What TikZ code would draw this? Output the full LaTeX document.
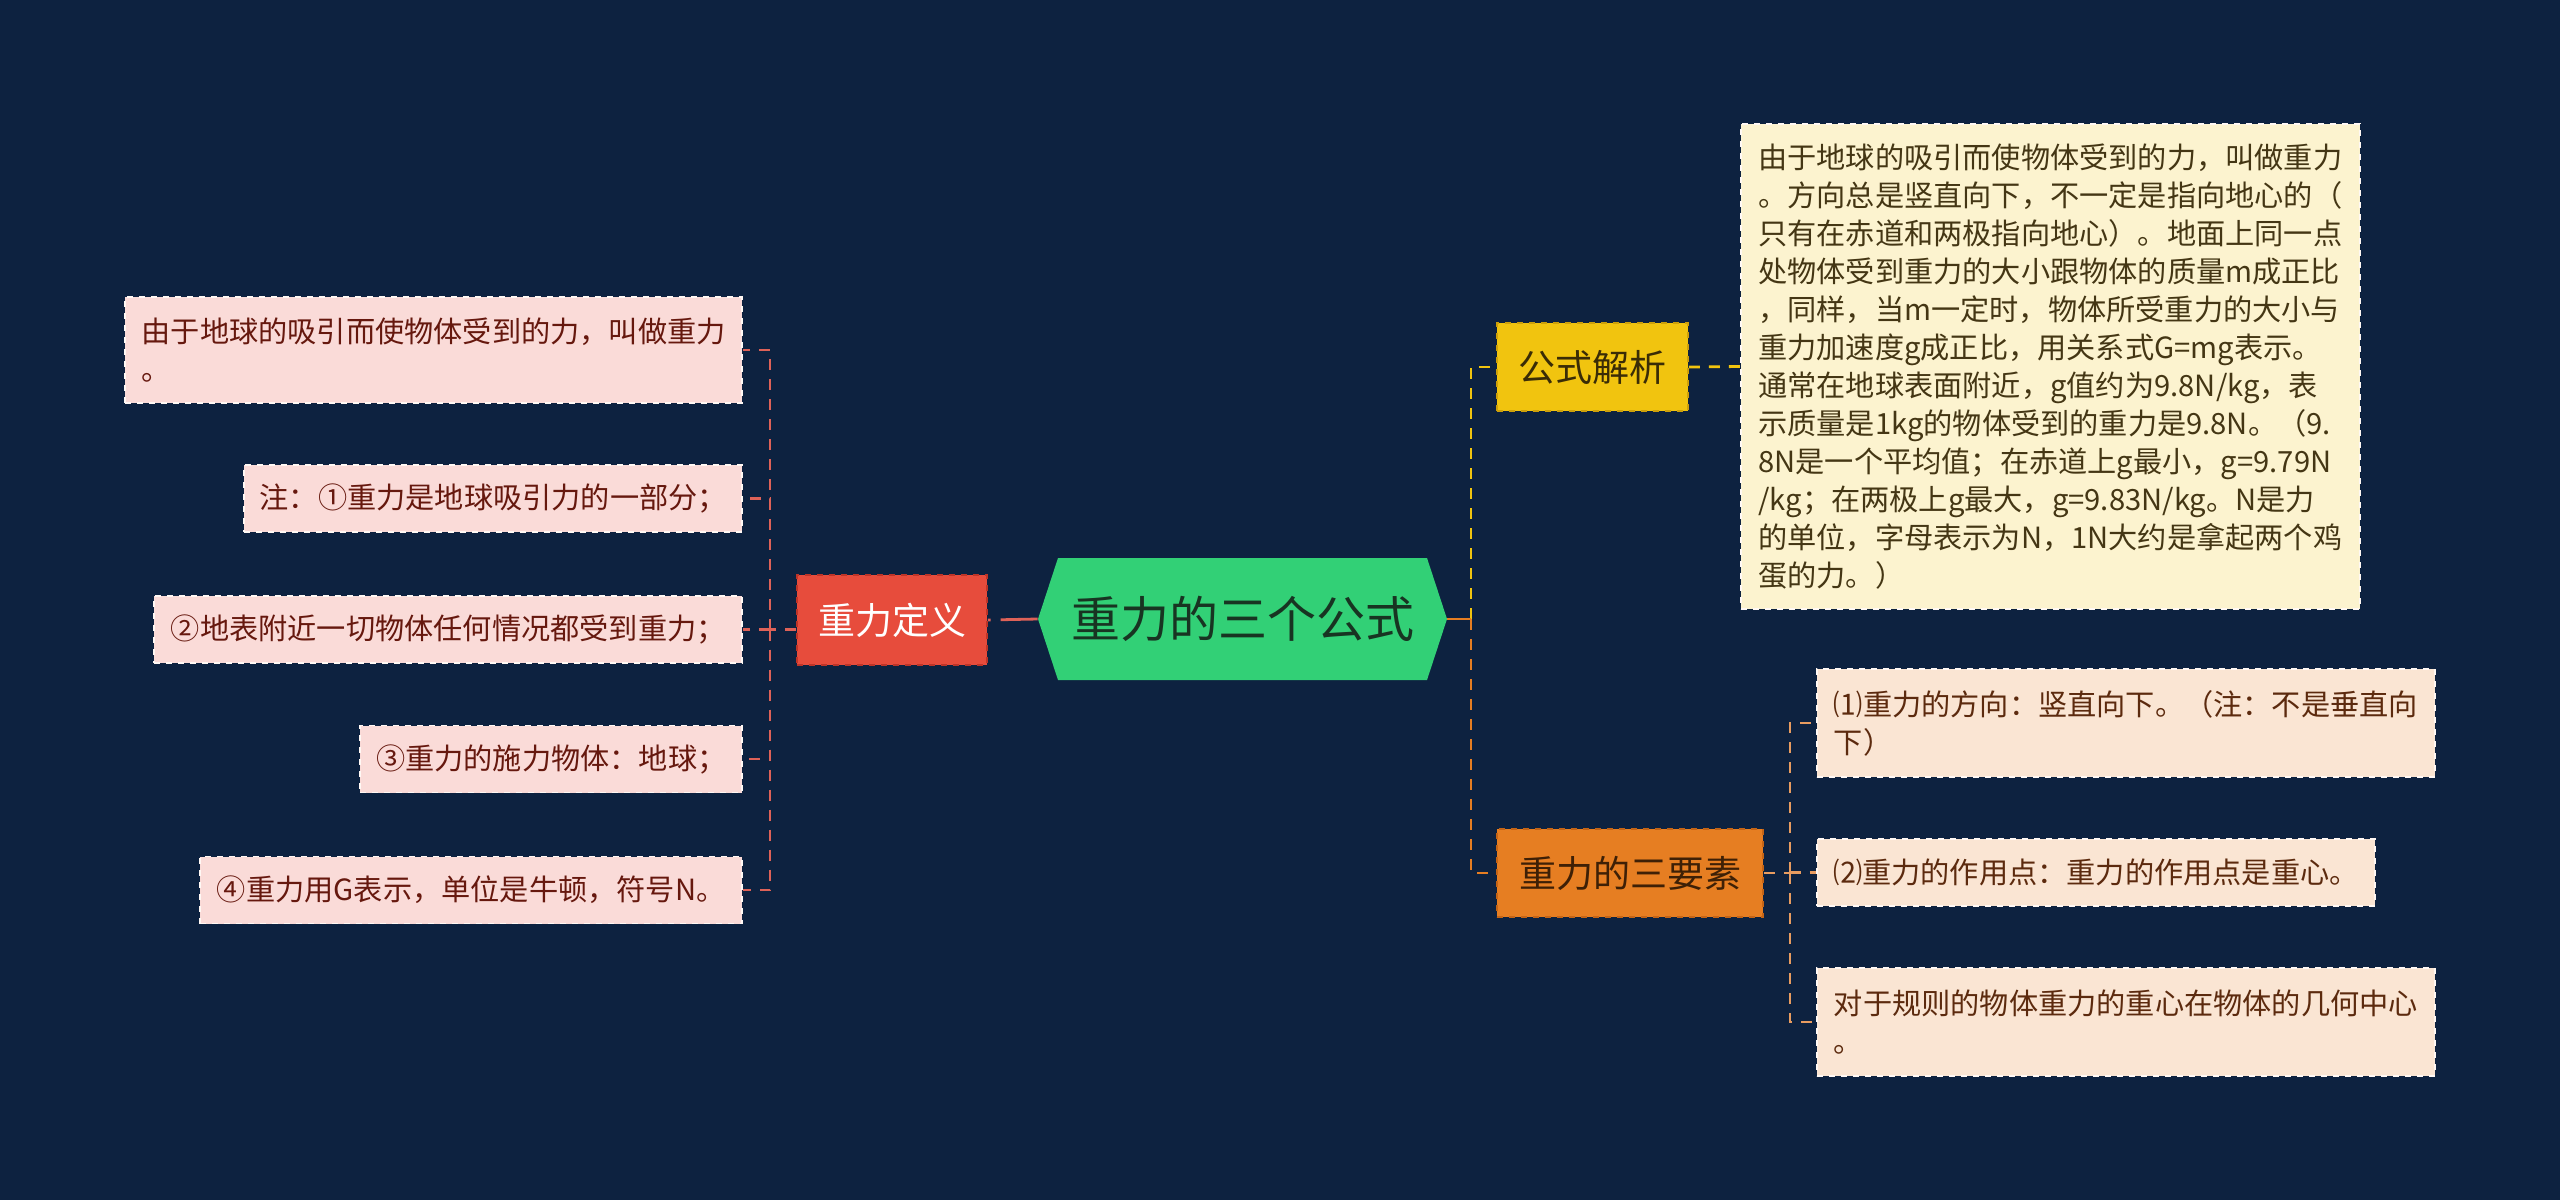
\documentclass[tikz,border=0pt]{standalone}
\usepackage{fontspec}
\setmainfont{Noto Sans CJK SC}
\usepackage{tikz}

\definecolor{bgnavy}{RGB}{13,34,64}
\definecolor{rootgreen}{RGB}{50,208,118}
\definecolor{rootink}{RGB}{24,52,34}
\definecolor{defred}{RGB}{231,76,60}
\definecolor{defedge}{RGB}{190,52,40}
\definecolor{fayellow}{RGB}{241,196,15}
\definecolor{faedge}{RGB}{205,160,10}
\definecolor{faink}{RGB}{58,44,6}
\definecolor{syorange}{RGB}{230,126,34}
\definecolor{syedge}{RGB}{196,100,22}
\definecolor{syink}{RGB}{62,32,6}
\definecolor{pinkleaf}{RGB}{250,219,216}
\definecolor{pinkink}{RGB}{102,24,14}
\definecolor{notefill}{RGB}{252,243,207}
\definecolor{noteink}{RGB}{68,54,20}
\definecolor{peachleaf}{RGB}{250,229,211}
\definecolor{peachink}{RGB}{92,42,14}
\definecolor{leafedge}{RGB}{255,248,244}
\definecolor{lline}{RGB}{222,98,88}
\definecolor{sline}{RGB}{232,156,96}

\tikzset{
  hexa/.style={minimum width=204.5pt,minimum height=61pt,inner sep=0pt,fill=bgnavy,
    text=rootink,font=\fontsize{24.5}{28}\selectfont,
    path picture={\fill[rootgreen] (path picture bounding box.west)
      -- ([xshift=10pt]path picture bounding box.north west)
      -- ([xshift=-10pt]path picture bounding box.north east)
      -- (path picture bounding box.east)
      -- ([xshift=-10pt]path picture bounding box.south east)
      -- ([xshift=10pt]path picture bounding box.south west) -- cycle;}},
  mainbox/.style={minimum height=44pt,inner sep=0pt,dashed,line width=0.8pt,
    font=\fontsize{18.5}{22}\selectfont},
  leafbox/.style={inner xsep=6pt,inner ysep=0pt,minimum height=33.5pt,align=left,
    draw=leafedge,dashed,line width=0.8pt,font=\fontsize{14.6}{19}\selectfont},
  leafl/.style={leafbox,fill=pinkleaf,text=pinkink,anchor=east},
  leafr/.style={leafbox,fill=peachleaf,text=peachink,anchor=west},
  conn/.style={line width=1.4pt,dash pattern=on 5.5pt off 4.5pt},
}

\begin{document}
\begin{tikzpicture}[x=.5pt,y=-.5pt]
\path[use as bounding box,fill=bgnavy] (0,0) rectangle (2560,1200);
% centre topic
\node[hexa] (root) at (1242.5,619) {重力的三个公式};
% left branch
\node[mainbox,fill=defred,draw=defedge,text=white,minimum width=95pt,minimum height=45pt] (def) at (892,620) {重力定义};
\node[leafl,minimum width=308.5pt,minimum height=53pt] (l1) at (743,350) {由于地球的吸引而使物体受到的力，叫做重力\\。};
\node[leafl,minimum width=249pt] (l2) at (743,498.5) {注：①重力是地球吸引力的一部分；};
\node[leafl,minimum width=294pt] (l3) at (743,629.5) {②地表附近一切物体任何情况都受到重力；};
\node[leafl,minimum width=191pt] (l4) at (743,759) {③重力的施力物体：地球；};
\node[leafl,minimum width=271pt] (l5) at (743,890) {④重力用G表示，单位是牛顿，符号N。};
% right branches
\node[mainbox,fill=fayellow,draw=faedge,text=faink,minimum width=95.5pt] (fa) at (1592.5,367) {公式解析};
\node[mainbox,fill=syorange,draw=syedge,text=syink,minimum width=133pt] (sy) at (1630,873) {重力的三要素};
\node[leafbox,anchor=west,fill=notefill,text=noteink,minimum width=309.5pt,minimum height=242.5pt] (note) at (1740,366.5) {由于地球的吸引而使物体受到的力，叫做重力\\。方向总是竖直向下，不一定是指向地心的（\\只有在赤道和两极指向地心）。地面上同一点\\处物体受到重力的大小跟物体的质量m成正比\\，同样，当m一定时，物体所受重力的大小与\\重力加速度g成正比，用关系式G=mg表示。\\通常在地球表面附近，g值约为9.8N/kg，表\\示质量是1kg的物体受到的重力是9.8N。（9.\\8N是一个平均值；在赤道上g最小，g=9.79N\\/kg；在两极上g最大，g=9.83N/kg。N是力\\的单位，字母表示为N，1N大约是拿起两个鸡\\蛋的力。）};
\node[leafr,minimum width=309pt,minimum height=54pt] (r1) at (1816,723) {⑴重力的方向：竖直向下。（注：不是垂直向\\下）};
\node[leafr,minimum width=279pt] (r2) at (1816,872.5) {⑵重力的作用点：重力的作用点是重心。};
\node[leafr,minimum width=309pt,minimum height=54pt] (r3) at (1816,1022) {对于规则的物体重力的重心在物体的几何中心\\。};

% connectors, left
\coordinate (lbus) at (770,629.5);
\draw[conn,lline,dash pattern=on 18.5pt off 5pt] (root.west) -- (def.east);
\draw[conn,lline] (def.west |- lbus) -- (lbus);
\foreach \n in {l1,l2,l3,l4,l5}
  \draw[conn,lline] (lbus) |- (\n.east);
% connectors, right
\coordinate (rbus) at (1471,619);
\coordinate (sbus) at (1790,873);
\draw[conn,fayellow] (rbus) |- (fa.west);
\draw[conn,syorange] (rbus) |- (sy.west);
\draw[line width=1.4pt,syorange] (root.east) -- (rbus);
\draw[conn,fayellow] (fa.east) -- (note.west);
\draw[conn,sline] (sy.east) -- (sbus);
\foreach \n in {r1,r2,r3}
  \draw[conn,sline] (sbus) |- (\n.west);
\end{tikzpicture}
\end{document}
